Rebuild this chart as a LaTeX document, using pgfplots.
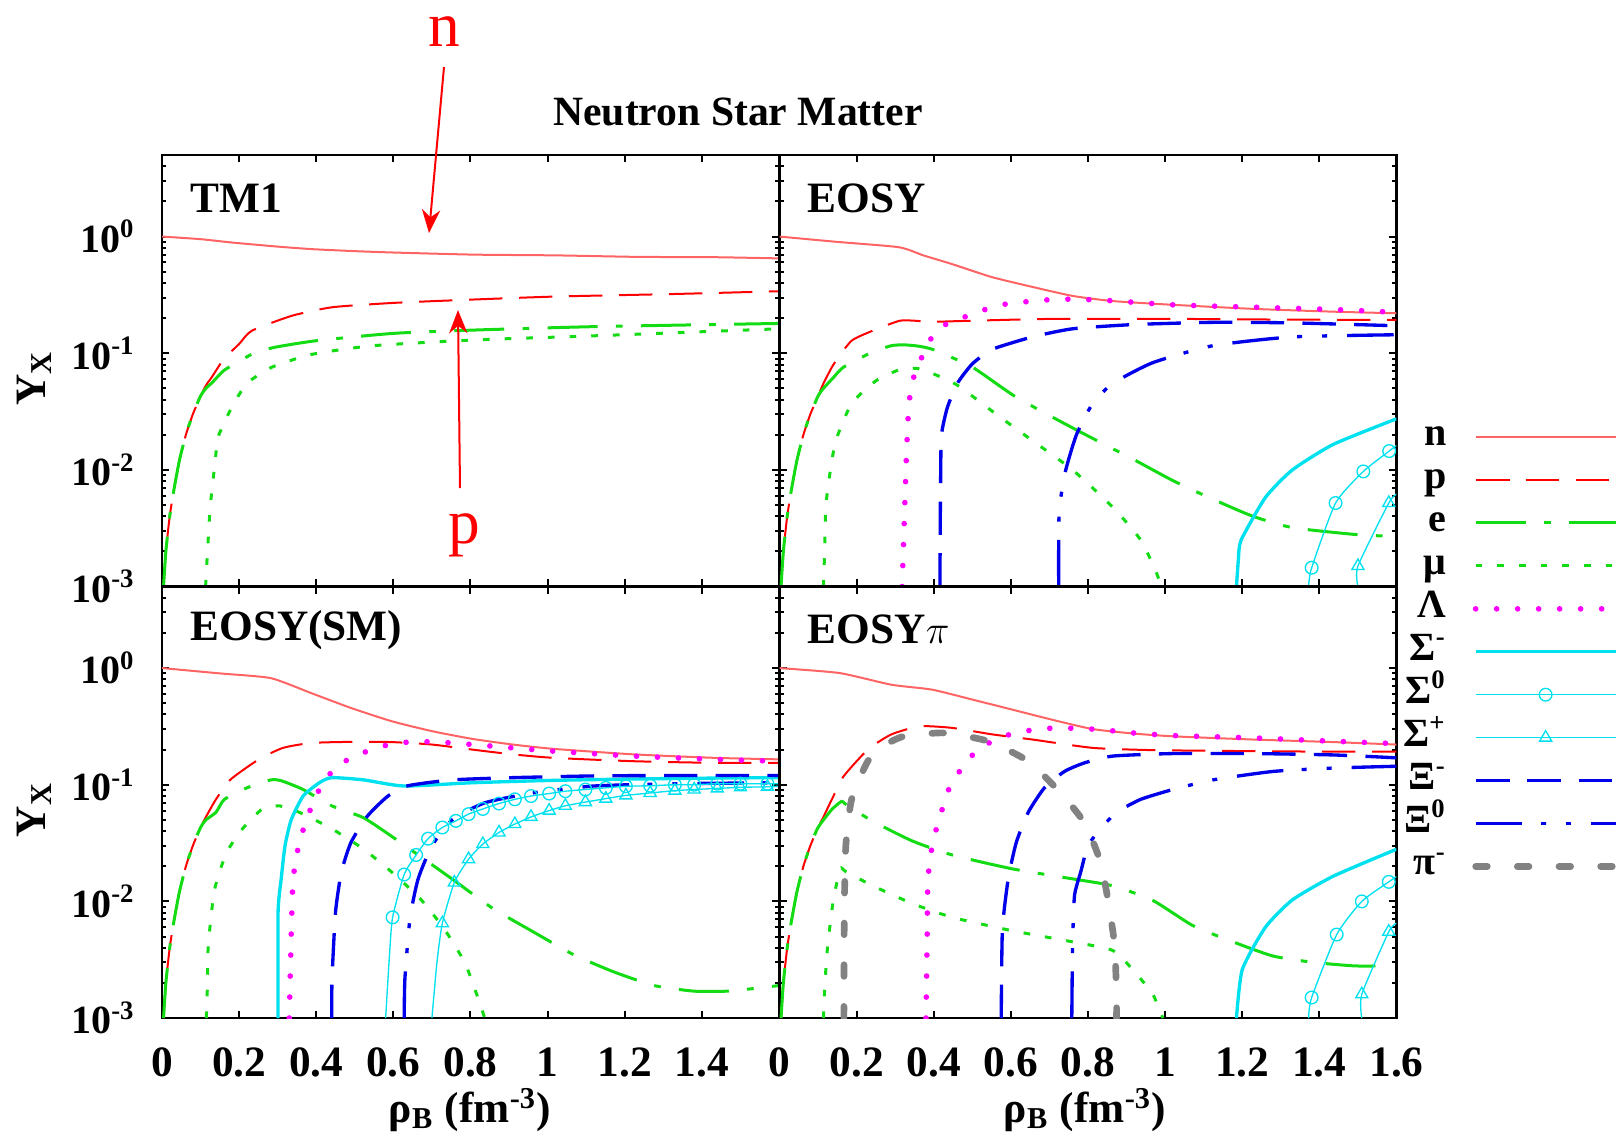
\documentclass[border=0pt]{standalone}
\usepackage{fontspec}
\setmainfont{Liberation Serif}
\usepackage{pgfplots}
\pgfplotsset{compat=1.18}
\usetikzlibrary{arrows.meta}
\definecolor{nC}{RGB}{255,100,100}
\definecolor{pC}{RGB}{255,0,0}
\definecolor{gC}{RGB}{20,220,20}
\definecolor{mC}{RGB}{255,0,255}
\definecolor{cC}{RGB}{0,225,240}
\definecolor{bC}{RGB}{0,0,235}
\definecolor{grC}{RGB}{130,130,130}
\tikzset{
 cvN/.style={color=nC, line width=0.6pt},
 cvP/.style={color=pC, line width=0.6pt, dash pattern=on 10pt off 5pt},
 cvE/.style={color=gC, line width=0.9pt, dash pattern=on 15pt off 5.5pt on 2pt off 5.5pt},
 cvMu/.style={color=gC, line width=0.9pt, dash pattern=on 2pt off 4.5pt},
 cvL/.style={color=mC, line width=1.7pt, line cap=round, dash pattern=on 0pt off 6.3pt},
 cvSm/.style={color=cC, line width=1pt},
 cvSz/.style={color=cC, line width=0.4pt, mark=o, mark size=1.9pt, mark options={solid}},
 cvSp/.style={color=cC, line width=0.4pt, mark=triangle, mark size=2.1pt, mark options={solid}},
 cvXm/.style={color=bC, line width=1pt, dash pattern=on 10pt off 5.5pt},
 cvXz/.style={color=bC, line width=1pt, dash pattern=on 14pt off 5.5pt on 1.5pt off 6pt on 1.5pt off 6pt},
 cvPi/.style={color=grC, line width=2pt, line cap=round, dash pattern=on 3.5pt off 9pt},
}
\begin{document}
\begin{tikzpicture}
\path[use as bounding box] (0pt,0pt) rectangle (485.7pt,-341.1pt);

% ---------------- TM1 ----------------
\begin{axis}[at={(48.6pt,-46.5pt)}, anchor=north west,
  scale only axis, width=185.1pt, height=129.45pt,
  ymode=log, xmin=0, xmax=1.6, ymin=1e-3, ymax=5,
  xtick={0,0.2,0.4,0.6,0.8,1,1.2,1.4,1.6}, ytick={1e-3,1e-2,1e-1,1},
  minor ytick={2e-3,3e-3,4e-3,5e-3,6e-3,7e-3,8e-3,9e-3,0.02,0.03,0.04,0.05,0.06,0.07,0.08,0.09,0.2,0.3,0.4,0.5,0.6,0.7,0.8,0.9,2,3,4,5},
  tick align=inside, major tick length=2.2pt, minor tick length=1.2pt,
  axis line style={line width=0.7pt}, tick style={black, line width=0.6pt},
  every axis plot/.append style={smooth, tension=0.35},
  yticklabel style={font=\fontsize{12}{14}\selectfont\bfseries, xshift=-4.5pt},
  xticklabels={},
  yticklabels={10\textsuperscript{-3},10\textsuperscript{-2},10\textsuperscript{-1},10\textsuperscript{0}}]
\addplot[cvN] coordinates {(0,1.0) (0.1,0.95) (0.18,0.89) (0.3,0.82) (0.39,0.78) (0.5,0.75) (0.6,0.73) (0.81,0.70) (1.02,0.69) (1.23,0.67) (1.44,0.665) (1.6,0.65)};
\addplot[cvP] coordinates {(0.004,0.001) (0.01,0.002) (0.02,0.004) (0.03,0.0065) (0.045,0.012) (0.062,0.02) (0.08,0.03) (0.1,0.043) (0.114,0.053) (0.13,0.063) (0.16,0.089) (0.2,0.12) (0.233,0.156) (0.338,0.21) (0.442,0.248) (0.6,0.27) (0.777,0.286) (1.018,0.306) (1.33,0.322) (1.6,0.34)};
\addplot[cvE] coordinates {(0.004,0.001) (0.01,0.002) (0.02,0.004) (0.03,0.0065) (0.045,0.012) (0.062,0.02) (0.08,0.03) (0.1,0.043) (0.114,0.05) (0.13,0.056) (0.16,0.071) (0.2,0.085) (0.233,0.098) (0.29,0.112) (0.4,0.128) (0.6,0.148) (0.81,0.158) (1.12,0.169) (1.6,0.18)};
\addplot[cvMu] coordinates {(0.113,0.001) (0.118,0.002) (0.125,0.0048) (0.139,0.0128) (0.145,0.019) (0.18,0.034) (0.22,0.055) (0.285,0.076) (0.39,0.098) (0.547,0.116) (0.81,0.13) (1.12,0.141) (1.6,0.162)};
\node[anchor=west, font=\fontsize{13}{15}\selectfont\bfseries] at (rel axis cs:0.027,0.9) {TM1};
\end{axis}

% ---------------- EOSY ----------------
\begin{axis}[at={(233.85pt,-46.5pt)}, anchor=north west,
  scale only axis, width=185.1pt, height=129.45pt,
  ymode=log, xmin=0, xmax=1.6, ymin=1e-3, ymax=5,
  xtick={0,0.2,0.4,0.6,0.8,1,1.2,1.4,1.6}, ytick={1e-3,1e-2,1e-1,1},
  minor ytick={2e-3,3e-3,4e-3,5e-3,6e-3,7e-3,8e-3,9e-3,0.02,0.03,0.04,0.05,0.06,0.07,0.08,0.09,0.2,0.3,0.4,0.5,0.6,0.7,0.8,0.9,2,3,4,5},
  tick align=inside, major tick length=2.2pt, minor tick length=1.2pt,
  axis line style={line width=0.7pt}, tick style={black, line width=0.6pt},
  every axis plot/.append style={smooth, tension=0.35},
  xticklabels={}, yticklabels={}]
\addplot[cvN] coordinates {(0,1.0) (0.15,0.9) (0.31,0.81) (0.373,0.69) (0.448,0.58) (0.55,0.45) (0.656,0.37) (0.76,0.31) (0.864,0.28) (1.02,0.26) (1.228,0.24) (1.437,0.227) (1.6,0.22)};
\addplot[cvP] coordinates {(0.004,0.001) (0.01,0.002) (0.02,0.004) (0.03,0.0065) (0.045,0.012) (0.062,0.02) (0.08,0.03) (0.1,0.043) (0.114,0.055) (0.14,0.08) (0.187,0.128) (0.25,0.16) (0.312,0.19) (0.35,0.19) (0.396,0.186) (0.5,0.19) (0.708,0.197) (1.02,0.197) (1.33,0.194) (1.6,0.193)};
\addplot[cvE] coordinates {(0.004,0.001) (0.01,0.002) (0.02,0.004) (0.03,0.0065) (0.045,0.012) (0.062,0.02) (0.08,0.03) (0.1,0.043) (0.114,0.05) (0.14,0.062) (0.166,0.076) (0.24,0.102) (0.29,0.116) (0.323,0.118) (0.36,0.115) (0.4,0.107) (0.5,0.076) (0.614,0.042) (0.77,0.022) (0.916,0.0124) (1.02,0.0081) (1.124,0.0056) (1.228,0.004) (1.33,0.0032) (1.49,0.0028) (1.58,0.0027)};
\addplot[cvMu] coordinates {(0.114,0.001) (0.117,0.002) (0.12,0.0048) (0.13,0.009) (0.146,0.0178) (0.187,0.037) (0.25,0.058) (0.315,0.073) (0.367,0.073) (0.458,0.054) (0.562,0.030) (0.656,0.0178) (0.76,0.01) (0.864,0.0048) (0.937,0.0025) (0.978,0.0013) (0.989,0.001)};
\addplot[cvL] coordinates {(0.318,0.001) (0.324,0.004) (0.329,0.0128) (0.334,0.03) (0.339,0.045) (0.352,0.07) (0.373,0.098) (0.4,0.146) (0.44,0.184) (0.5,0.215) (0.55,0.248) (0.6,0.268) (0.718,0.29) (0.83,0.286) (1.02,0.26) (1.23,0.248) (1.437,0.237) (1.6,0.224)};
\addplot[cvXm] coordinates {(0.416,0.001) (0.417,0.004) (0.418,0.0093) (0.42,0.02) (0.435,0.034) (0.461,0.055) (0.5,0.081) (0.552,0.108) (0.656,0.138) (0.76,0.162) (0.916,0.176) (1.124,0.184) (1.33,0.182) (1.6,0.172)};
\addplot[cvXz] coordinates {(0.724,0.001) (0.725,0.0042) (0.74,0.0093) (0.77,0.02) (0.812,0.037) (0.864,0.055) (0.968,0.083) (1.124,0.116) (1.33,0.138) (1.6,0.144)};
\addplot[cvSm] coordinates {(1.185,0.001) (1.19,0.0017) (1.197,0.0025) (1.26,0.0058) (1.33,0.01) (1.437,0.0166) (1.6,0.0274)};
\addplot[cvSz, mark indices={2,3,4,5}] coordinates {(1.372,0.001) (1.38,0.00145) (1.442,0.0052) (1.514,0.0097) (1.581,0.0145) (1.6,0.0162)};
\addplot[cvSp, mark indices={2,3}] coordinates {(1.50,0.001) (1.50,0.0015) (1.58,0.0052) (1.6,0.0062)};
\node[anchor=west, font=\fontsize{13}{15}\selectfont\bfseries] at (rel axis cs:0.027,0.9) {EOSY};
\end{axis}

% ---------------- EOSY(SM) ----------------
\begin{axis}[at={(48.6pt,-175.95pt)}, anchor=north west,
  scale only axis, width=185.1pt, height=129.45pt,
  ymode=log, xmin=0, xmax=1.6, ymin=1e-3, ymax=5,
  xtick={0,0.2,0.4,0.6,0.8,1,1.2,1.4,1.6}, ytick={1e-3,1e-2,1e-1,1},
  minor ytick={2e-3,3e-3,4e-3,5e-3,6e-3,7e-3,8e-3,9e-3,0.02,0.03,0.04,0.05,0.06,0.07,0.08,0.09,0.2,0.3,0.4,0.5,0.6,0.7,0.8,0.9,2,3,4,5},
  tick align=inside, major tick length=2.2pt, minor tick length=1.2pt,
  axis line style={line width=0.7pt}, tick style={black, line width=0.6pt},
  every axis plot/.append style={smooth, tension=0.35},
  xticklabel style={font=\fontsize{13}{15}\selectfont\bfseries, yshift=-5.3pt},
  yticklabel style={font=\fontsize{12}{14}\selectfont\bfseries, xshift=-4.5pt},
  xticklabels={0,0.2,0.4,0.6,0.8,1,1.2,1.4,{}},
  yticklabels={10\textsuperscript{-3},10\textsuperscript{-2},10\textsuperscript{-1},10\textsuperscript{0}}]
\addplot[cvN] coordinates {(0,1.0) (0.15,0.9) (0.282,0.82) (0.387,0.61) (0.49,0.455) (0.596,0.35) (0.70,0.288) (0.805,0.247) (0.91,0.221) (1.015,0.203) (1.224,0.182) (1.433,0.17) (1.6,0.165)};
\addplot[cvP] coordinates {(0.004,0.001) (0.01,0.002) (0.02,0.004) (0.03,0.0065) (0.045,0.012) (0.062,0.02) (0.08,0.03) (0.1,0.043) (0.114,0.053) (0.14,0.075) (0.178,0.111) (0.251,0.165) (0.314,0.207) (0.387,0.228) (0.49,0.233) (0.596,0.232) (0.70,0.221) (0.805,0.2) (0.91,0.182) (1.015,0.17) (1.224,0.159) (1.433,0.154) (1.6,0.154)};
\addplot[cvE] coordinates {(0.004,0.001) (0.01,0.002) (0.02,0.004) (0.03,0.0065) (0.045,0.012) (0.062,0.02) (0.08,0.03) (0.1,0.043) (0.114,0.05) (0.14,0.058) (0.162,0.075) (0.22,0.094) (0.282,0.11) (0.31,0.108) (0.366,0.091) (0.44,0.066) (0.523,0.052) (0.607,0.034) (0.753,0.0155) (0.858,0.0087) (0.962,0.0055) (1.067,0.0035) (1.17,0.0025) (1.276,0.0019) (1.38,0.0017) (1.465,0.0017) (1.54,0.0018) (1.6,0.0019)};
\addplot[cvMu] coordinates {(0.115,0.001) (0.118,0.002) (0.12,0.0042) (0.136,0.0125) (0.167,0.026) (0.209,0.042) (0.26,0.062) (0.303,0.066) (0.356,0.058) (0.44,0.042) (0.523,0.028) (0.596,0.0178) (0.67,0.0105) (0.732,0.0058) (0.785,0.003) (0.816,0.0016) (0.837,0.001)};
\addplot[cvL] coordinates {(0.33,0.001) (0.335,0.005) (0.34,0.0155) (0.356,0.032) (0.382,0.058) (0.408,0.091) (0.445,0.135) (0.49,0.17) (0.544,0.2) (0.596,0.224) (0.65,0.233) (0.71,0.233) (0.805,0.221) (0.91,0.207) (1.015,0.194) (1.224,0.176) (1.433,0.165) (1.6,0.159)};
\addplot[cvSm] coordinates {(0.301,0.001) (0.301,0.0081) (0.309,0.0155) (0.319,0.03) (0.335,0.05) (0.366,0.08) (0.408,0.104) (0.44,0.115) (0.523,0.11) (0.628,0.0975) (0.805,0.104) (1.015,0.109) (1.224,0.112) (1.433,0.114) (1.6,0.115)};
\addplot[cvXm] coordinates {(0.44,0.001) (0.441,0.0022) (0.45,0.0081) (0.465,0.0177) (0.49,0.032) (0.533,0.054) (0.586,0.08) (0.638,0.098) (0.753,0.11) (0.91,0.115) (1.12,0.119) (1.33,0.12) (1.6,0.12)};
\addplot[cvXz] coordinates {(0.628,0.001) (0.63,0.0022) (0.643,0.0071) (0.664,0.0155) (0.70,0.03) (0.753,0.05) (0.837,0.07) (0.962,0.085) (1.12,0.0975) (1.33,0.102) (1.6,0.104)};
\addplot[cvSz, mark indices={3,4,5,6,7,8,9,10,11,12,13,14,15,16,17,18,19,20,21,22,23,24}] coordinates {(0.58,0.001) (0.59,0.0035) (0.598,0.0073) (0.628,0.017) (0.659,0.025) (0.69,0.0345) (0.727,0.043) (0.762,0.049) (0.795,0.056) (0.832,0.062) (0.874,0.069) (0.915,0.075) (0.957,0.08) (1.004,0.084) (1.046,0.088) (1.098,0.091) (1.151,0.094) (1.203,0.097) (1.266,0.098) (1.33,0.1) (1.38,0.1) (1.44,0.102) (1.5,0.102) (1.57,0.102) (1.6,0.102)};
\addplot[cvSp, mark indices={3,4,5,6,7,8,9,10,11,12,13,14,15,16,17,18,19,20}] coordinates {(0.70,0.001) (0.713,0.003) (0.727,0.0065) (0.758,0.0145) (0.795,0.023) (0.832,0.031) (0.874,0.039) (0.915,0.046) (0.957,0.053) (1.004,0.06) (1.046,0.066) (1.098,0.071) (1.151,0.076) (1.203,0.081) (1.266,0.085) (1.33,0.089) (1.38,0.091) (1.44,0.093) (1.5,0.095) (1.57,0.096) (1.6,0.097)};
\node[anchor=west, font=\fontsize{13}{15}\selectfont\bfseries] at (rel axis cs:0.027,0.9) {EOSY(SM)};
\end{axis}

% ---------------- EOSYpi ----------------
\begin{axis}[at={(233.85pt,-175.95pt)}, anchor=north west,
  scale only axis, width=185.1pt, height=129.45pt,
  ymode=log, xmin=0, xmax=1.6, ymin=1e-3, ymax=5,
  xtick={0,0.2,0.4,0.6,0.8,1,1.2,1.4,1.6}, ytick={1e-3,1e-2,1e-1,1},
  minor ytick={2e-3,3e-3,4e-3,5e-3,6e-3,7e-3,8e-3,9e-3,0.02,0.03,0.04,0.05,0.06,0.07,0.08,0.09,0.2,0.3,0.4,0.5,0.6,0.7,0.8,0.9,2,3,4,5},
  tick align=inside, major tick length=2.2pt, minor tick length=1.2pt,
  axis line style={line width=0.7pt}, tick style={black, line width=0.6pt},
  every axis plot/.append style={smooth, tension=0.35},
  xticklabel style={font=\fontsize{13}{15}\selectfont\bfseries, yshift=-5.3pt},
  xticklabels={0,0.2,0.4,0.6,0.8,1,1.2,1.4,1.6}, yticklabels={},
  legend style={at={(1.3606,1.396)}, anchor=north east, draw=none, fill=none,
    inner sep=0pt, outer sep=0pt, column sep=7.8pt, row sep=0pt,
    font=\fontsize{12}{14}\selectfont\bfseries,
    nodes={inner sep=0pt, text height=9pt, text depth=3.88pt}},
  legend cell align=right, legend plot pos=right,
  legend image code/.code={\draw[mark repeat=2,mark phase=2,#1] plot coordinates {(0pt,0pt) (21pt,0pt) (42pt,0pt)};}]
\addlegendimage{cvN}\addlegendentry{n}
\addlegendimage{cvP}\addlegendentry{p}
\addlegendimage{cvE}\addlegendentry{e}
\addlegendimage{cvMu}\addlegendentry{μ}
\addlegendimage{cvL}\addlegendentry{Λ}
\addlegendimage{cvSm}\addlegendentry{Σ\textsuperscript{-}}
\addlegendimage{cvSz}\addlegendentry{Σ\textsuperscript{0}}
\addlegendimage{cvSp}\addlegendentry{Σ\textsuperscript{+}}
\addlegendimage{cvXm}\addlegendentry{Ξ\textsuperscript{-}}
\addlegendimage{cvXz}\addlegendentry{Ξ\textsuperscript{0}}
\addlegendimage{cvPi}\addlegendentry{π\textsuperscript{-}}
\addplot[cvN, forget plot] coordinates {(0,1.0) (0.156,0.906) (0.29,0.72) (0.396,0.653) (0.5,0.537) (0.604,0.44) (0.708,0.36) (0.812,0.30) (0.916,0.275) (1.02,0.26) (1.228,0.244) (1.437,0.232) (1.6,0.221)};
\addplot[cvP, forget plot] coordinates {(0.004,0.001) (0.01,0.002) (0.02,0.004) (0.03,0.0065) (0.045,0.012) (0.062,0.02) (0.08,0.03) (0.1,0.043) (0.114,0.053) (0.14,0.08) (0.167,0.119) (0.229,0.2) (0.29,0.27) (0.364,0.317) (0.448,0.307) (0.552,0.27) (0.656,0.244) (0.812,0.207) (0.968,0.198) (1.228,0.194) (1.437,0.192) (1.6,0.192)};
\addplot[cvE, forget plot] coordinates {(0.004,0.001) (0.01,0.002) (0.02,0.004) (0.03,0.0065) (0.045,0.012) (0.062,0.02) (0.08,0.03) (0.1,0.043) (0.135,0.061) (0.161,0.072) (0.172,0.068) (0.24,0.049) (0.344,0.033) (0.448,0.025) (0.604,0.019) (0.76,0.0156) (0.864,0.0136) (0.968,0.0102) (1.072,0.0062) (1.176,0.0045) (1.28,0.0034) (1.385,0.003) (1.49,0.0028) (1.56,0.0028)};
\addplot[cvMu, forget plot] coordinates {(0.114,0.001) (0.118,0.002) (0.125,0.0042) (0.14,0.0105) (0.158,0.019) (0.172,0.018) (0.24,0.0137) (0.344,0.0096) (0.448,0.0073) (0.604,0.0056) (0.76,0.0045) (0.864,0.0038) (0.916,0.0026) (0.968,0.0016) (0.994,0.001)};
\addplot[cvL, forget plot] coordinates {(0.38,0.001) (0.383,0.005) (0.385,0.0155) (0.396,0.03) (0.411,0.047) (0.442,0.097) (0.474,0.14) (0.51,0.194) (0.552,0.236) (0.609,0.278) (0.666,0.297) (0.718,0.307) (0.776,0.303) (0.833,0.297) (0.916,0.278) (1.02,0.264) (1.228,0.252) (1.437,0.236) (1.6,0.225)};
\addplot[cvSm, forget plot] coordinates {(1.185,0.001) (1.2,0.0026) (1.26,0.006) (1.33,0.0103) (1.437,0.0165) (1.6,0.028)};
\addplot[cvSz, mark indices={2,3,4,5}, forget plot] coordinates {(1.372,0.001) (1.38,0.0015) (1.445,0.0052) (1.51,0.01) (1.58,0.0147) (1.6,0.0163)};
\addplot[cvSp, mark indices={2,3}, forget plot] coordinates {(1.51,0.001) (1.51,0.0016) (1.58,0.0055) (1.6,0.0065)};
\addplot[cvXm, forget plot] coordinates {(0.575,0.001) (0.578,0.0057) (0.593,0.0155) (0.614,0.032) (0.645,0.058) (0.687,0.094) (0.739,0.13) (0.791,0.154) (0.864,0.176) (1.02,0.185) (1.228,0.185) (1.437,0.18) (1.6,0.17)};
\addplot[cvXz, forget plot] coordinates {(0.758,0.001) (0.76,0.0042) (0.765,0.0112) (0.781,0.0178) (0.80,0.03) (0.833,0.042) (0.874,0.058) (0.937,0.075) (1.02,0.091) (1.124,0.11) (1.28,0.13) (1.437,0.139) (1.6,0.144)};
\addplot[cvPi, forget plot] coordinates {(0.167,0.001) (0.168,0.0081) (0.172,0.03) (0.187,0.075) (0.229,0.159) (0.275,0.22) (0.323,0.26) (0.427,0.278) (0.541,0.236) (0.645,0.159) (0.729,0.085) (0.791,0.047) (0.833,0.0215) (0.854,0.0093) (0.869,0.0042) (0.874,0.0016) (0.874,0.001)};
\node[anchor=west, font=\fontsize{13}{15}\selectfont\bfseries] at (rel axis cs:0.027,0.9) {EOSY$\pi$};
\end{axis}

% ---------------- titles, labels, annotations ----------------
\node[font=\fontsize{12.5}{15}\selectfont\bfseries] at (221.4pt,-33.45pt) {Neutron Star Matter};
\node[rotate=90, anchor=base, font=\fontsize{13}{15}\selectfont\bfseries] at (13.5pt,-113.4pt) {Y\textsubscript{X}};
\node[rotate=90, anchor=base, font=\fontsize{13}{15}\selectfont\bfseries] at (13.5pt,-242.9pt) {Y\textsubscript{X}};
\node[font=\fontsize{13}{15}\selectfont\bfseries] at (141pt,-333pt) {ρ\textsubscript{B} (fm\textsuperscript{-3})};
\node[font=\fontsize{13}{15}\selectfont\bfseries] at (325.5pt,-333pt) {ρ\textsubscript{B} (fm\textsuperscript{-3})};
\node[text=red, font=\fontsize{19}{22}\selectfont, anchor=base] at (133.2pt,-13.95pt) {n};
\node[text=red, font=\fontsize{19}{22}\selectfont, anchor=base] at (139.2pt,-162.9pt) {p};
\draw[red, line width=0.6pt, -{Stealth[length=7pt,width=5.5pt]}] (133.2pt,-20.1pt) -- (128.7pt,-69.9pt);
\draw[red, line width=0.6pt, -{Stealth[length=7pt,width=5.5pt]}] (138pt,-146.4pt) -- (137.4pt,-93pt);
\end{tikzpicture}
\end{document}
